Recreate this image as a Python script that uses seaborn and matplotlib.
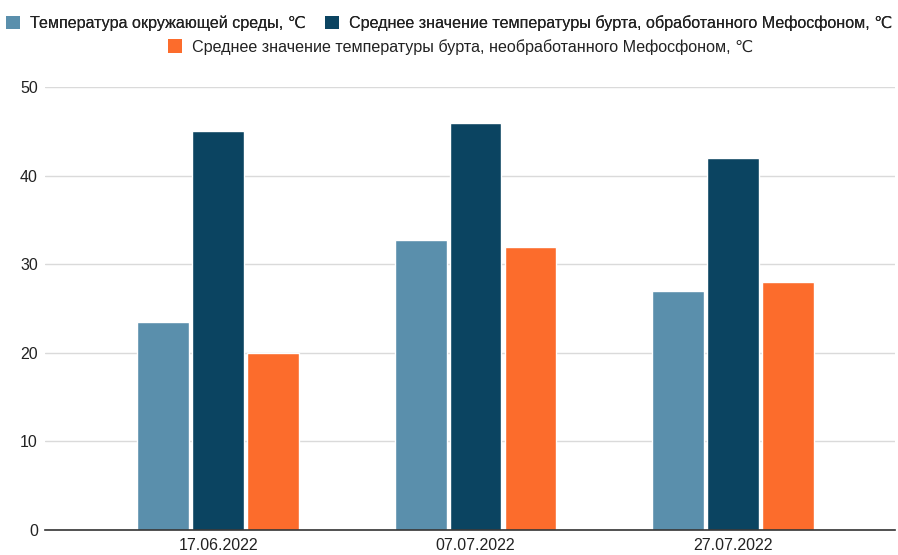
import matplotlib
matplotlib.use("Agg")
import matplotlib.pyplot as plt
from matplotlib.patches import Patch
import seaborn as sns
import pandas as pd

dates = ["17.06.2022", "07.07.2022", "27.07.2022"]
series_names = [
    "Температура окружающей среды, ℃",
    "Среднее значение температуры бурта, обработанного Мефосфоном, ℃",
    "Среднее значение температуры бурта, необработанного Мефосфоном, ℃",
]
ambient = [23.5, 32.7, 27.0]
treated = [45.0, 46.0, 42.0]
untreated = [20.0, 32.0, 28.0]
colors = ["#5a8fac", "#0b4461", "#fc6c2c"]

df = pd.DataFrame({
    "date": dates * 3,
    "series": [series_names[0]] * 3 + [series_names[1]] * 3 + [series_names[2]] * 3,
    "value": ambient + treated + untreated,
})

sns.set_theme(style="white")
plt.rcParams["font.family"] = ["Liberation Sans", "DejaVu Sans"]

fig = plt.figure(figsize=(8.98, 5.55), dpi=100)
ax = fig.add_axes([0.05, 0.045, 0.947, 0.798])

sns.barplot(data=df, x="date", y="value", hue="series", hue_order=series_names,
            palette=colors, width=0.64, gap=0.06, saturation=1, ax=ax,
            legend=False, errorbar=None)

ax.set_ylim(0, 50)
ax.set_xlim(-0.673, 2.63)
ax.set_yticks([0, 10, 20, 30, 40, 50])
ax.yaxis.grid(True, color="#dadada", linewidth=1)
ax.set_axisbelow(True)
for s in ["top", "right", "left"]:
    ax.spines[s].set_visible(False)
ax.spines["bottom"].set_color("#333333")
ax.spines["bottom"].set_linewidth(1.2)
ax.set_xlabel("")
ax.set_ylabel("")
ax.tick_params(axis="both", length=0, labelsize=11.5, colors="#222222")
ax.tick_params(axis="y", pad=5)
ax.tick_params(axis="x", pad=6)

font_leg = {"family": ["Liberation Sans", "DejaVu Sans"], "size": 11.6}
h = [Patch(facecolor=c, edgecolor="none") for c in colors]
leg1 = fig.legend(h[:2], series_names[:2], loc="center", bbox_to_anchor=(0.5, 0.958),
                  ncol=2, frameon=False, prop=font_leg, handlelength=0.9, handleheight=0.9,
                  handletextpad=0.6, columnspacing=1.2, labelcolor="#222222")
fig.add_artist(leg1)
fig.legend(h[2:], series_names[2:], loc="center", bbox_to_anchor=(0.513, 0.916),
           ncol=1, frameon=False, prop=font_leg, handlelength=0.9, handleheight=0.9,
           handletextpad=0.6, labelcolor="#222222")

fig.savefig("out.png", dpi=100)
